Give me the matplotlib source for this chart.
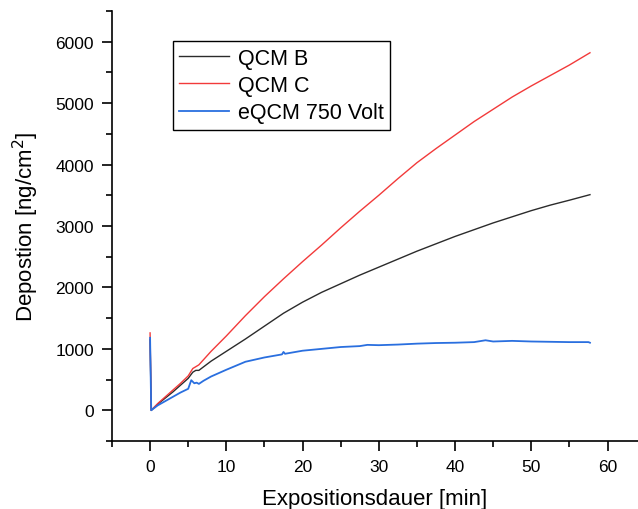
import matplotlib.pyplot as plt
from matplotlib.ticker import MultipleLocator

plt.rcParams['font.family'] = ['Liberation Sans', 'DejaVu Sans']

# Deposition curves (time in min, deposition in ng/cm^2)
t_b = [0, 0.15, 1, 2, 3, 4, 5, 5.6, 6.0, 6.4, 8, 10, 12.5, 15, 17.5, 20, 22.5, 25, 27.5,
       30, 32.5, 35, 37.5, 40, 42.5, 45, 47.5, 50, 52.5, 55, 57.7]
qcm_b = [1150, 0, 100, 200, 300, 410, 520, 620, 650, 650, 800, 960, 1160, 1370, 1580, 1760,
         1920, 2060, 2200, 2330, 2460, 2590, 2710, 2830, 2940, 3050, 3150, 3250, 3340, 3420, 3510]

t_c = [0, 0.15, 1, 2, 3, 4, 5, 5.6, 6.0, 6.4, 8, 10, 12.5, 15, 17.5, 20, 22.5, 25, 27.5,
       30, 32.5, 35, 37.5, 40, 42.5, 45, 47.5, 50, 52.5, 55, 57.7]
qcm_c = [1260, 0, 110, 220, 330, 440, 560, 680, 710, 740, 960, 1210, 1540, 1850, 2140, 2420,
         2690, 2970, 3240, 3500, 3770, 4030, 4260, 4480, 4700, 4900, 5100, 5280, 5450, 5620, 5820]

t_e = [0, 0.15, 1, 2, 3, 4, 5, 5.4, 5.8, 6.1, 6.4, 7, 8, 10, 12.5, 15, 17.3, 17.5, 17.7, 20,
       22.5, 25, 27.5, 28.5, 30, 32.5, 35, 37.5, 40, 42.5, 44, 45, 47.5, 50, 52.5, 55, 57.5, 57.7]
eqcm = [1180, 0, 80, 150, 220, 290, 350, 490, 440, 450, 430, 480, 550, 660, 790, 860, 910, 950,
        920, 970, 1000, 1030, 1045, 1065, 1060, 1070, 1085, 1095, 1100, 1110, 1140, 1120, 1130,
        1120, 1115, 1110, 1110, 1100]

fig = plt.figure(figsize=(6.38, 5.10), dpi=100)
ax = fig.add_axes([0.1755, 0.1333, 0.8245, 0.8432])

ax.plot(t_b, qcm_b, color='#2b2b2b', lw=1.0, label='QCM B')
ax.plot(t_c, qcm_c, color='#f23a3a', lw=1.0, label='QCM C')
ax.plot(t_e, eqcm, color='#2a6fdf', lw=1.3, label='eQCM 750 Volt')

ax.set_xlim(-5, 64)
ax.set_ylim(-500, 6500)
ax.xaxis.set_major_locator(MultipleLocator(10))
ax.xaxis.set_minor_locator(MultipleLocator(5))
ax.yaxis.set_major_locator(MultipleLocator(1000))
ax.yaxis.set_minor_locator(MultipleLocator(500))

ax.spines['top'].set_visible(False)
ax.spines['right'].set_visible(False)
for s in ['left', 'bottom']:
    ax.spines[s].set_linewidth(1.2)
ax.tick_params(which='major', direction='out', length=7, width=1.2, labelsize=12.5, pad=6)
ax.tick_params(which='minor', direction='out', length=4, width=1.2)

ax.set_xlabel('Expositionsdauer [min]', fontsize=16, labelpad=10)
ax.set_ylabel('Depostion [ng/cm$^2$]', fontsize=16, labelpad=10)

leg = ax.legend(loc='upper left', bbox_to_anchor=(0.116, 0.93), borderaxespad=0,
                fontsize=15.5, fancybox=False, framealpha=1, edgecolor='black',
                handlelength=2.3, handletextpad=0.4, labelspacing=0.3, borderpad=0.3)
leg.get_frame().set_linewidth(1.0)

plt.savefig('out.png', dpi=100)
